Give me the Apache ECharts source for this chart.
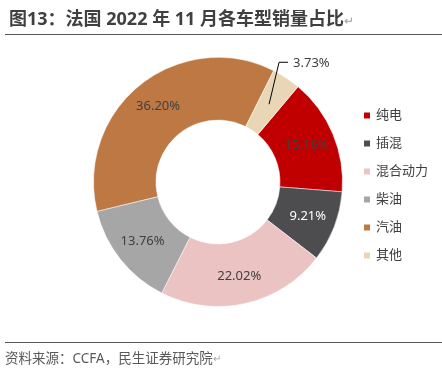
<!DOCTYPE html>
<html>
<head>
<meta charset="utf-8">
<script src="https://cdn.jsdelivr.net/npm/echarts@6/dist/echarts.min.js"></script>
<style>
html,body{margin:0;padding:0;background:#fff;}
#c{width:442px;height:372px;}
</style>
</head>
<body>
<div id="c"></div>
<script>
var categories = ['纯电', '插混', '混合动力', '柴油', '汽油', '其他'];
var shares = [15.16, 9.21, 22.02, 13.76, 36.20, 3.73];
var colors = ['#C00000', '#4D4D4F', '#EBC3C3', '#A6A6A6', '#BE7844', '#E9D6B6'];
var labelColors = ['#404040', '#FFFFFF', '#404040', '#404040', '#404040', '#404040'];
var outsideLabel = '其他';

var FONT = '"Noto Sans", "Noto Sans CJK SC", sans-serif';

var mainData = categories.map(function (name, i) {
  return {
    name: name,
    value: shares[i],
    itemStyle: { color: colors[i] },
    label: { show: name !== outsideLabel, color: labelColors[i] }
  };
});
var helperData = categories.map(function (name, i) {
  return {
    name: name,
    value: shares[i],
    label: { show: name === outsideLabel },
    labelLine: { show: name === outsideLabel }
  };
});

var chart = echarts.init(document.getElementById('c'), null, { renderer: 'canvas' });
chart.setOption({
  animation: false,
  backgroundColor: '#fff',
  textStyle: { fontFamily: FONT },
  title: {
    left: 4, top: 6,
    text: '图13：法国 2022 年 11 月各车型销量占比{a|↵}',
    textStyle: {
      fontFamily: FONT, fontSize: 18, fontWeight: 'bold', color: '#404040',
      rich: { a: { fontFamily: FONT, fontSize: 12, color: '#A0A0A0', fontWeight: 'normal', padding: [4, 0, 0, 0] } }
    }
  },
  legend: {
    orient: 'vertical',
    left: 357, top: 104,
    itemWidth: 8, itemHeight: 8, itemGap: 15,
    icon: 'rect',
    data: categories,
    textStyle: { fontFamily: FONT, fontSize: 13, color: '#404040' }
  },
  graphic: [
    { type: 'line', shape: { x1: 5, y1: 34.5, x2: 442, y2: 34.5 }, style: { stroke: '#595959', lineWidth: 1 } },
    { type: 'line', shape: { x1: 5, y1: 342.5, x2: 442, y2: 342.5 }, style: { stroke: '#595959', lineWidth: 1 } },
    { type: 'text', left: 5, top: 352,
      style: {
        text: '资料来源：CCFA，民生证券研究院{a|↵}',
        font: '13.5px ' + FONT, fill: '#595959',
        rich: { a: { fontSize: 10, fill: '#A0A0A0', fontFamily: FONT } }
      } }
  ],
  series: [
    {
      type: 'pie',
      center: [218, 182],
      radius: [62, 124.5],
      startAngle: 50,
      clockwise: true,
      avoidLabelOverlap: false,
      silent: true,
      label: {
        position: 'inside',
        fontFamily: FONT,
        fontSize: 13,
        formatter: function (p) { return p.value.toFixed(2) + '%'; }
      },
      labelLine: { show: false },
      itemStyle: { borderColor: '#fff', borderWidth: 0.5 },
      data: mainData
    },
    {
      type: 'pie',
      center: [218, 182],
      radius: [0, 93],
      startAngle: 50,
      clockwise: true,
      avoidLabelOverlap: false,
      silent: true,
      z: 5,
      itemStyle: { color: 'rgba(0,0,0,0)' },
      label: {
        position: 'outside',
        fontFamily: FONT,
        fontSize: 13,
        color: '#404040',
        formatter: function (p) { return p.value.toFixed(2) + '%'; }
      },
      labelLine: { length: 44, length2: 9, lineStyle: { color: '#000', width: 1 } },
      labelLayout: function (params) {
        var pts = params.labelLinePoints;
        if (!pts) { return {}; }
        var p0 = pts[0];
        var corner = [p0[0] + 10, p0[1] - 42];
        var end = [corner[0] + 9, corner[1]];
        return {
          x: end[0] + 5,
          y: end[1] + 1,
          align: 'left',
          verticalAlign: 'middle',
          labelLinePoints: [p0, corner, end]
        };
      },
      data: helperData
    }
  ]
});
</script>
</body>
</html>
